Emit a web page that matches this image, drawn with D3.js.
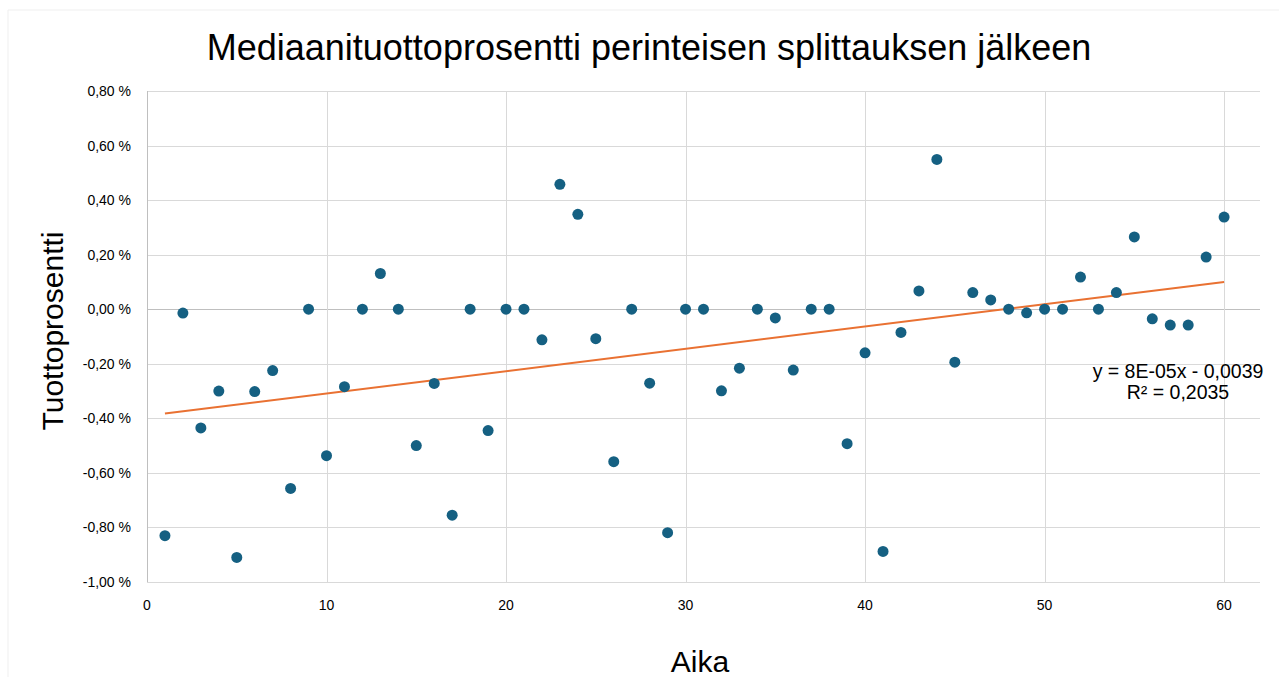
<html>
<script src="https://d3js.org/d3.v7.min.js"></script>
<body style="margin:0;background:#fff">
<script>
    // data (percent values)
    var aika = d3.range(1, 61)
    var tuotto = [-0.83, -0.014, -0.435, -0.30, -0.91, -0.302, -0.225, -0.657, 0, -0.537,
                  -0.284, 0, 0.131, 0, -0.50, -0.272, -0.755, 0, -0.445, 0,
                  0, -0.112, 0.458, 0.348, -0.108, -0.559, 0, -0.271, -0.819, 0,
                  0, -0.299, -0.216, 0, -0.032, -0.223, 0, 0, -0.493, -0.16,
                  -0.888, -0.085, 0.067, 0.549, -0.194, 0.061, 0.034, 0, -0.013, 0,
                  0, 0.118, 0, 0.061, 0.265, -0.035, -0.058, -0.058, 0.191, 0.338]
    var yTicks = [0.8, 0.6, 0.4, 0.2, 0, -0.2, -0.4, -0.6, -0.8, -1.0]
    var xTicks = [0, 10, 20, 30, 40, 50, 60]
    var eqLines = ['y = 8E-05x - 0,0039', 'R\u00b2 = 0,2035']

    var width = 1279, height = 677
    var svg = d3.select('body').append('svg').attr('width', width).attr('height', height)
        .style('font-family', '"Liberation Sans", Arial, sans-serif')

    // faint outer chart border
    svg.append('path').attr('d', 'M8,' + height + ' V10 H' + width)
        .attr('fill', 'none').attr('stroke', '#efefef').attr('stroke-width', 1)

    var x = d3.scaleLinear().domain([0, 62]).range([147, 1260])
    var y = d3.scaleLinear().domain([-1.0, 0.8]).range([582, 91])

    var grid = svg.append('g')
    grid.selectAll('.hg').data(yTicks).enter().append('line')
        .attr('x1', x(0)).attr('x2', x(62))
        .attr('y1', function(d){return Math.round(y(d)) + 0.5}).attr('y2', function(d){return Math.round(y(d)) + 0.5})
        .attr('stroke', function(d){return d == 0 ? '#bfbfbf' : '#d9d9d9'}).attr('stroke-width', 1)
    grid.selectAll('.vg').data(xTicks.slice(1)).enter().append('line')
        .attr('y1', y(0.8)).attr('y2', y(-1.0))
        .attr('x1', function(d){return Math.round(x(d)) + 0.5}).attr('x2', function(d){return Math.round(x(d)) + 0.5})
        .attr('stroke', '#d9d9d9').attr('stroke-width', 1)
    grid.append('line').attr('x1', x(0) + 0.5).attr('x2', x(0) + 0.5).attr('y1', y(0.8)).attr('y2', y(-1.0))
        .attr('stroke', '#bfbfbf').attr('stroke-width', 1)

    var fmt = function(d){return d3.format('.2f')(d).replace('.', ',').replace('\u2212', '-') + ' %'}
    svg.selectAll('.yt').data(yTicks).enter().append('text')
        .attr('x', 131).attr('y', function(d){return y(d) + 5})
        .attr('text-anchor', 'end').style('font-size', '14px').attr('fill', '#000')
        .text(fmt)
    svg.selectAll('.xt').data(xTicks).enter().append('text')
        .attr('x', function(d){return x(d)}).attr('y', 610)
        .attr('text-anchor', 'middle').style('font-size', '14px').attr('fill', '#000')
        .text(function(d){return d})

    // linear trendline (least squares)
    var n = aika.length
    var mx = d3.mean(aika), my = d3.mean(tuotto)
    var slope = d3.sum(aika, function(d, i){return (d - mx) * (tuotto[i] - my)}) / d3.sum(aika, function(d){return (d - mx) * (d - mx)})
    var icpt = my - slope * mx
    svg.append('line')
        .attr('x1', x(aika[0])).attr('y1', y(icpt + slope * aika[0]))
        .attr('x2', x(aika[n - 1])).attr('y2', y(icpt + slope * aika[n - 1]))
        .attr('stroke', '#e97132').attr('stroke-width', 2)

    svg.selectAll('circle').data(aika).enter().append('circle')
        .attr('cx', function(d){return x(d)}).attr('cy', function(d, i){return y(tuotto[i])})
        .attr('r', 5.5).attr('fill', '#156082')

    svg.selectAll('.eq').data(eqLines).enter().append('text')
        .attr('x', 1178).attr('y', function(d, i){return 378 + i * 21})
        .attr('text-anchor', 'middle').style('font-size', '19.5px').attr('fill', '#000')
        .text(function(d){return d})

    svg.append('text').attr('x', 649).attr('y', 60).attr('text-anchor', 'middle')
        .style('font-size', '36px').attr('fill', '#000')
        .text('Mediaanituottoprosentti perinteisen splittauksen jälkeen')
    svg.append('text').attr('x', 700).attr('y', 672).attr('text-anchor', 'middle')
        .style('font-size', '30px').attr('fill', '#000').text('Aika')
    svg.append('text').attr('transform', 'translate(63,331) rotate(-90)').attr('text-anchor', 'middle')
        .style('font-size', '30px').attr('fill', '#000').text('Tuottoprosentti')
</script>
</body>
</html>
